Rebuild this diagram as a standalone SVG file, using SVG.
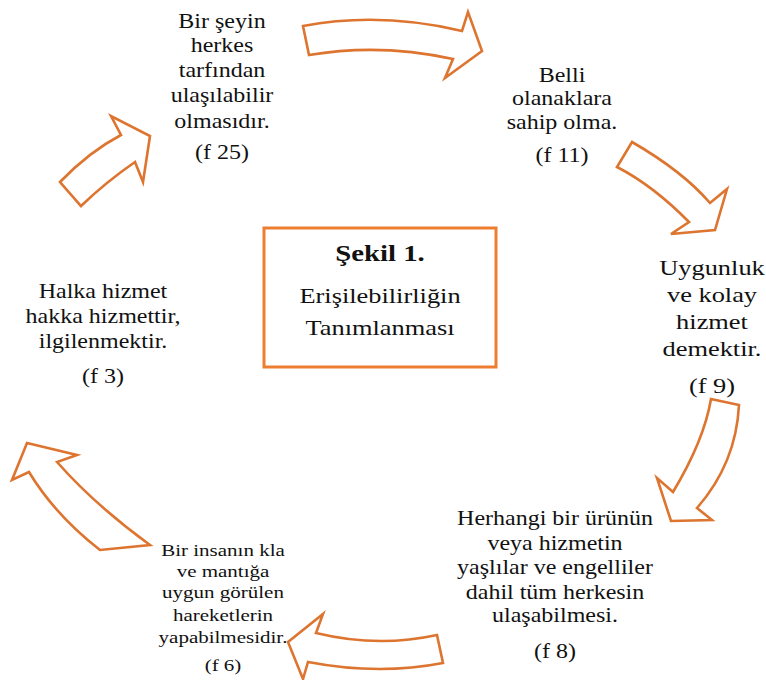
<svg xmlns="http://www.w3.org/2000/svg" width="766" height="680" viewBox="0 0 766 680">
<style>
.arr{fill:#fff;stroke:#DD7530;stroke-width:2.6;stroke-linejoin:miter}
.t{font-family:"Liberation Serif","Times New Roman",serif;fill:#111;text-anchor:middle}
.s20{font-size:20px}
.s22{font-size:22px}
.s17{font-size:17.5px}
.b{font-weight:bold}
</style>
<rect width="766" height="680" fill="#fff"/>
<g id="connectors">
<path class="arr" d="M303,26 Q380,11.5 462,31 L468,12 L482,51 L445,78 L453,59 Q380,43 309,55 Z"/>
<path class="arr" d="M632,142 Q683,171.5 710,203 L727,189 L715,230 L671,234 L689,222 Q653,185.5 617,167 Z"/>
<path class="arr" d="M711,399 L739,405 Q736,463.5 697,508 L712,520 L671,521 L657,478 L673,492 Q704,440.5 711,399 Z"/>
<path class="arr" d="M288,642 L323,614 L316,633 Q377.5,648 437,635 L443,663 Q378.5,675.5 308,662 L303,679 Z"/>
<path class="arr" d="M27,443 L77,455 L57,462 Q95,505 150,545 L100,550 Q55,515 29,472 L12,480 Z"/>
<path class="arr" d="M60,182 Q89.5,151.5 121,135 L111,116 L150,136 L143,182 L135,162 Q106,182 81,206 Z"/>
</g>
<g id="center">
<rect x="264" y="228" width="232" height="139" fill="#fff" stroke="#ED7D31" stroke-width="3"/>
<g transform="translate(380,0) scale(1.2,1)">
<text class="t b" x="0" y="261" style="font-size:24px">Şekil 1.</text>
<text class="t s22" x="0" y="303">Erişilebilirliğin</text>
<text class="t s22" x="0" y="335">Tanımlanması</text>
</g>
</g>
<g id="n25" transform="translate(222,0) scale(1.2,1)">
<text class="t s20" x="0" y="28">Bir şeyin</text>
<text class="t s20" x="0" y="52">herkes</text>
<text class="t s20" x="0" y="77">tarfından</text>
<text class="t s20" x="0" y="102">ulaşılabilir</text>
<text class="t s20" x="0" y="128">olmasıdır.</text>
<text class="t s20" x="0" y="159">(f 25)</text>
</g>
<g id="n11" transform="translate(562,0) scale(1.2,1)">
<text class="t s20" x="0" y="82">Belli</text>
<text class="t s20" x="0" y="105">olanaklara</text>
<text class="t s20" x="0" y="129">sahip olma.</text>
<text class="t s20" x="0" y="162">(f 11)</text>
</g>
<g id="n9" transform="translate(712,0) scale(1.2,1)">
<text class="t s22" x="0" y="275">Uygunluk</text>
<text class="t s22" x="0" y="302">ve kolay</text>
<text class="t s22" x="0" y="329">hizmet</text>
<text class="t s22" x="0" y="356">demektir.</text>
<text class="t s22" x="0" y="393">(f 9)</text>
</g>
<g id="n8" transform="translate(555,0) scale(1.2,1)">
<text class="t s20" x="0" y="525">Herhangi bir ürünün</text>
<text class="t s20" x="0" y="550">veya hizmetin</text>
<text class="t s20" x="0" y="574">yaşlılar ve engelliler</text>
<text class="t s20" x="0" y="599">dahil tüm herkesin</text>
<text class="t s20" x="0" y="622">ulaşabilmesi.</text>
<text class="t s20" x="0" y="658">(f 8)</text>
</g>
<g id="n6" transform="translate(223,0) scale(1.2,1)">
<text class="t s17" x="0" y="556">Bir insanın kla</text>
<text class="t s17" x="0" y="577">ve mantığa</text>
<text class="t s17" x="0" y="598">uygun görülen</text>
<text class="t s17" x="0" y="621">hareketlerin</text>
<text class="t s17" x="0" y="643">yapabilmesidir.</text>
<text class="t s17" x="0" y="671">(f 6)</text>
</g>
<g id="n3" transform="translate(103,0) scale(1.2,1)">
<text class="t s20" x="0" y="298">Halka hizmet</text>
<text class="t s20" x="0" y="323">hakka hizmettir,</text>
<text class="t s20" x="0" y="348">ilgilenmektir.</text>
<text class="t s20" x="0" y="383">(f 3)</text>
</g>
</svg>
